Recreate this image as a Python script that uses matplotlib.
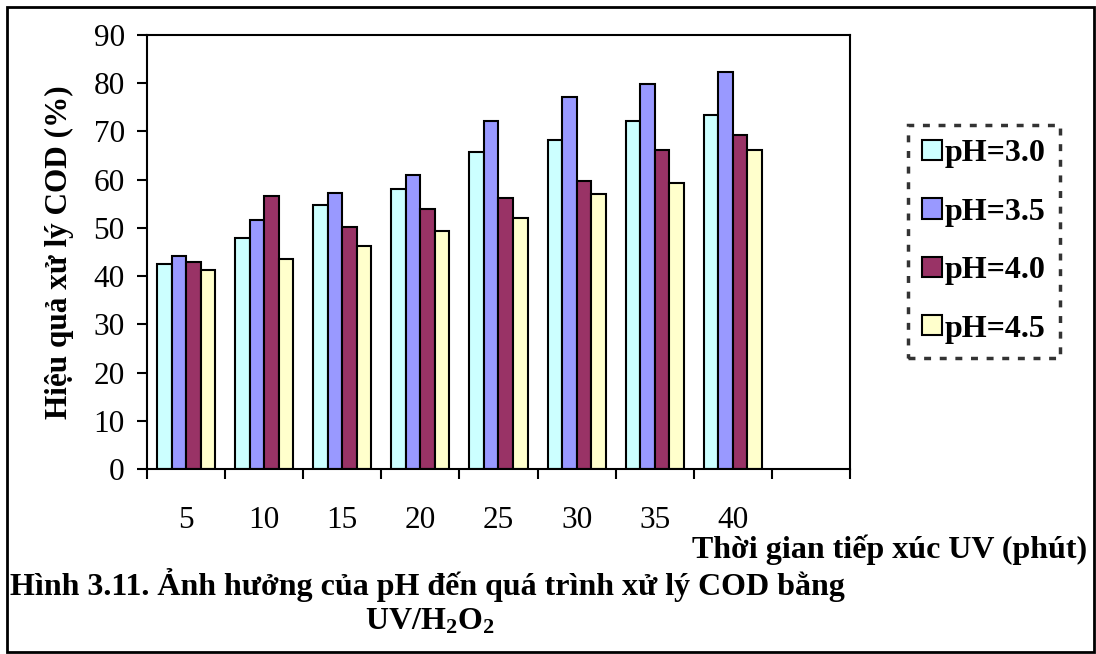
import numpy as np
import matplotlib
matplotlib.use('Agg')
import matplotlib.pyplot as plt
from matplotlib.patches import Rectangle

plt.rcParams['font.family'] = ['Liberation Serif', 'DejaVu Serif']
plt.rcParams['mathtext.fontset'] = 'custom'
plt.rcParams['mathtext.rm'] = 'Liberation Serif:bold'
plt.rcParams['mathtext.default'] = 'rm'

# Data
times = ['5', '10', '15', '20', '25', '30', '35', '40']
ph30 = [42.5, 47.8, 54.8, 58.0, 65.7, 68.3, 72.1, 73.4]
ph35 = [44.1, 51.6, 57.2, 60.9, 72.2, 77.2, 79.8, 82.3]
ph40 = [42.9, 56.6, 50.1, 53.9, 56.2, 59.7, 66.2, 69.2]
ph45 = [41.2, 43.6, 46.2, 49.3, 52.0, 57.0, 59.4, 66.2]
labels = ['pH=3.0', 'pH=3.5', 'pH=4.0', 'pH=4.5']
colors = ['#CCFFFF', '#9999FF', '#993366', '#FFFFCC']

fig = plt.figure(figsize=(10.96, 6.54), dpi=100)
ax = fig.add_axes([147/1096, 1 - 469/654, 703/1096, 434/654])

x = np.arange(len(times))
w = 0.186
series = [ph30, ph35, ph40, ph45]
for i, vals in enumerate(series):
    ax.bar(x + (i - 1.5) * w, vals, w, color=colors[i], edgecolor='black',
           linewidth=1.5, label=labels[i])

# 9 category slots, the last one empty
ax.set_xlim(-0.5, 8.5)
ax.set_ylim(0, 90)
ax.set_yticks(range(0, 91, 10))
ax.set_xticks(x)
ax.set_xticklabels(times)
ax.set_xticks(np.arange(-0.5, 9, 1), minor=True)
ax.tick_params(axis='x', which='major', length=0, pad=27, labelsize=22.5)
ax.tick_params(axis='x', which='minor', length=7, width=1.5, direction='out')
ax.tick_params(axis='y', length=7, width=1.5, direction='out', pad=9, labelsize=22.5)
for s in ax.spines.values():
    s.set_linewidth(1.5)

ax.set_ylabel('Hiệu quả xử lý COD (%)', fontsize=22.5, fontweight='bold', labelpad=14)

leg = fig.legend(loc='upper left', bbox_to_anchor=(908/1096, 1 - 125/654),
                 prop={'size': 23, 'weight': 'bold'}, handlelength=0.6,
                 handleheight=0.6, handletextpad=0.1, labelspacing=0.92,
                 borderpad=0.45, borderaxespad=0, fancybox=False)
frame = leg.get_frame()
frame.set_edgecolor('black')
frame.set_linewidth(2.5)
frame.set_linestyle((0, (2, 2.5)))

fig.text(1087/1096, 1 - 550/654, 'Thời gian tiếp xúc UV (phút)', ha='right', va='center',
         fontsize=23, fontweight='bold')
fig.text(10/1096, 1 - 585/654, 'Hình 3.11. Ảnh hưởng của pH đến quá trình xử lý COD bằng',
         ha='left', va='center', fontsize=23, fontweight='bold')
fig.text(430/1096, 1 - 622/654, r'$UV/H_2O_2$', ha='center', va='center', fontsize=23)

# outer border
fig.patches.append(Rectangle((7/1096, 2/654), 1087/1096, 645/654, transform=fig.transFigure,
                             fill=False, edgecolor='black', linewidth=2))

fig.savefig('out.png', dpi=100)
